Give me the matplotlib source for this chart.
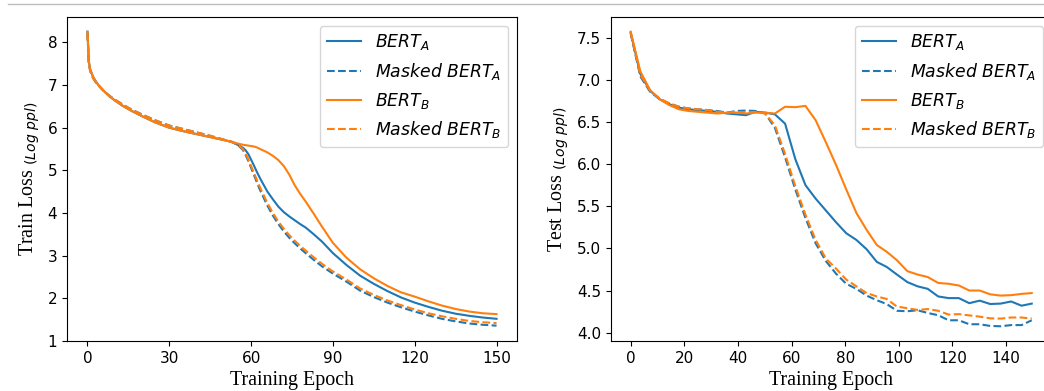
import matplotlib
matplotlib.use("Agg")
import matplotlib.pyplot as plt
from matplotlib.lines import Line2D

# ---------------- data ----------------
train_epochs = [0, 0.5, 1, 2, 3, 4, 6, 8, 10, 13, 16, 20, 25, 30, 35, 40, 45, 50, 53, 55,
                57, 58, 59, 60, 61, 62, 63, 64, 66, 68, 70, 72, 74, 76, 78, 80, 83, 86, 90,
                95, 100, 105, 110, 115, 120, 125, 130, 135, 140, 145, 150]

train_bert_a = [8.25, 7.55, 7.37, 7.20, 7.09, 7.00, 6.86, 6.74, 6.64, 6.51, 6.40, 6.27, 6.12,
                6.00, 5.92, 5.85, 5.78, 5.71, 5.67, 5.60,
                5.53, 5.47, 5.38, 5.25, 5.12, 4.98, 4.85, 4.73, 4.50, 4.32, 4.15, 4.02, 3.92,
                3.83, 3.74, 3.66, 3.50, 3.33, 3.06,
                2.78, 2.53, 2.34, 2.17, 2.02, 1.90, 1.80, 1.71, 1.64, 1.59, 1.55, 1.52]

train_masked_a = [8.22, 7.50, 7.33, 7.17, 7.07, 6.99, 6.86, 6.75, 6.66, 6.54, 6.43, 6.31, 6.17,
                  6.05, 5.97, 5.89, 5.81, 5.72, 5.66, 5.60,
                  5.48, 5.36, 5.22, 5.06, 4.90, 4.74, 4.58, 4.44, 4.17, 3.94, 3.74, 3.57, 3.42,
                  3.29, 3.17, 3.06, 2.90, 2.75, 2.58,
                  2.39, 2.18, 2.03, 1.90, 1.79, 1.69, 1.60, 1.52, 1.46, 1.41, 1.38, 1.36]

train_bert_b = [8.25, 7.55, 7.37, 7.20, 7.09, 7.00, 6.86, 6.74, 6.64, 6.51, 6.40, 6.27, 6.12,
                6.00, 5.92, 5.85, 5.78, 5.71, 5.67, 5.63,
                5.60, 5.59, 5.58, 5.57, 5.56, 5.54, 5.51, 5.48, 5.42, 5.34, 5.24, 5.10, 4.90,
                4.65, 4.45, 4.27, 3.98, 3.68, 3.30,
                2.95, 2.68, 2.47, 2.29, 2.14, 2.04, 1.93, 1.83, 1.75, 1.69, 1.65, 1.63]

train_masked_b = [8.22, 7.50, 7.33, 7.17, 7.07, 6.99, 6.86, 6.75, 6.66, 6.54, 6.43, 6.31, 6.17,
                  6.05, 5.97, 5.89, 5.81, 5.72, 5.66, 5.61,
                  5.50, 5.39, 5.26, 5.10, 4.95, 4.79, 4.64, 4.50, 4.23, 4.00, 3.80, 3.63, 3.48,
                  3.35, 3.23, 3.12, 2.96, 2.81, 2.63,
                  2.44, 2.23, 2.08, 1.95, 1.84, 1.74, 1.65, 1.58, 1.52, 1.47, 1.44, 1.42]

test_epochs = [0, 3.6, 7.2, 10.8, 14.4, 18.0, 21.5, 25.1, 28.7, 32.3, 35.9, 39.5, 43.0, 46.6,
               50.2, 53.8, 57.6, 61.4, 65.2, 69.0, 72.8, 76.6, 80.4, 84.2, 88.0, 91.8, 95.5,
               99.3, 103.2, 107.0, 110.8, 114.7, 118.6, 122.4, 126.3, 130.2, 134.1, 138.0,
               141.9, 145.8, 149.6]

test_bert_a = [7.56, 7.07, 6.87, 6.77, 6.71, 6.67, 6.65, 6.64, 6.63, 6.62, 6.60, 6.59, 6.58,
               6.62, 6.61, 6.59, 6.48, 6.06, 5.75, 5.59, 5.45, 5.31, 5.18, 5.10, 4.99, 4.84,
               4.78, 4.69, 4.60, 4.55, 4.52, 4.43, 4.41, 4.41, 4.35, 4.38, 4.34, 4.345, 4.37,
               4.32, 4.345]

test_masked_a = [7.55, 7.04, 6.86, 6.77, 6.72, 6.68, 6.66, 6.65, 6.64, 6.63, 6.61, 6.63, 6.635,
                 6.63, 6.60, 6.43, 6.08, 5.70, 5.36, 5.06, 4.85, 4.70, 4.58, 4.52, 4.44, 4.385,
                 4.34, 4.26, 4.254, 4.266, 4.234, 4.207, 4.147, 4.147, 4.10, 4.10, 4.08, 4.076,
                 4.09, 4.09, 4.147]

test_bert_b = [7.57, 7.10, 6.88, 6.77, 6.70, 6.65, 6.63, 6.62, 6.61, 6.60, 6.61, 6.61, 6.60,
               6.61, 6.61, 6.60, 6.68, 6.675, 6.69, 6.52, 6.26, 5.99, 5.70, 5.42, 5.22, 5.04,
               4.96, 4.86, 4.73, 4.69, 4.66, 4.59, 4.58, 4.56, 4.50, 4.50, 4.455, 4.44, 4.445,
               4.46, 4.47]

test_masked_b = [7.56, 7.06, 6.87, 6.78, 6.72, 6.68, 6.66, 6.65, 6.64, 6.62, 6.61, 6.62, 6.61,
                 6.62, 6.60, 6.46, 6.12, 5.74, 5.40, 5.10, 4.88, 4.76, 4.63, 4.55, 4.47, 4.43,
                 4.40, 4.31, 4.29, 4.27, 4.28, 4.26, 4.215, 4.22, 4.205, 4.19, 4.17, 4.167,
                 4.18, 4.18, 4.167]

labels = [r'$BERT_A$', r'$Masked\ BERT_A$', r'$BERT_B$', r'$Masked\ BERT_B$']
colors = ['#1f77b4', '#1f77b4', '#ff7f0e', '#ff7f0e']
styles = ['-', '--', '-', '--']

train_ticks = [0, 30, 60, 90, 120, 150]
test_ticks = [0, 20, 40, 60, 80, 100, 120, 140]

# ---------------- figure ----------------
W, H = 1044, 391
fig = plt.figure(figsize=(W / 100, H / 100), dpi=100)

ax1 = fig.add_axes([67 / W, 50 / H, 450 / W, 324 / H])
ax2 = fig.add_axes([610.6 / W, 50 / H, 441.2 / W, 324 / H])

serif = {'family': 'Liberation Serif', 'size': 14.4}

for ax, xs, series, ticks, ylab in [
    (ax1, train_epochs, [train_bert_a, train_masked_a, train_bert_b, train_masked_b],
     train_ticks, r'Train Loss $_{(Log\ ppl)}$'),
    (ax2, test_epochs, [test_bert_a, test_masked_a, test_bert_b, test_masked_b],
     test_ticks, r'Test Loss $_{(Log\ ppl)}$'),
]:
    for ys, lab, c, ls in zip(series, labels, colors, styles):
        ax.plot(xs, ys, color=c, linestyle=ls, linewidth=1.5, label=lab)
    ax.set_xticks(ticks)
    ax.tick_params(labelsize=11)
    ax.set_xlabel('Training Epoch', fontdict=serif)
    ax.set_ylabel(ylab, fontdict=serif)
    ax.legend(loc='upper right', fontsize=12.4)

ax1.set_yticks([1, 2, 3, 4, 5, 6, 7, 8])
ax2.set_yticks([4.0, 4.5, 5.0, 5.5, 6.0, 6.5, 7.0, 7.5])

fig.add_artist(Line2D([8 / W, 1.0], [1 - 4 / H, 1 - 4 / H], color='#bdbdbd', linewidth=1.0))

fig.savefig('out.png', dpi=100)
